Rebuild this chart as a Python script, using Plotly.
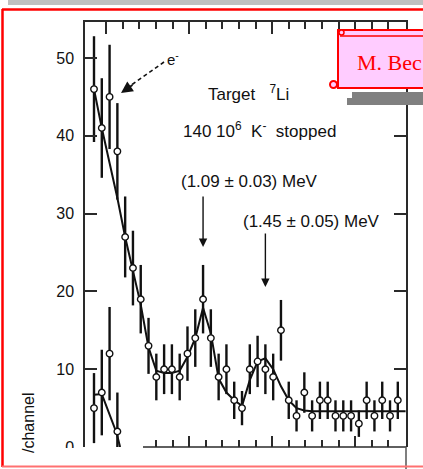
import plotly.graph_objects as go

# ---- spectrum data (counts per channel) ----
channels = list(range(40))
counts = [46, 41, 45, 38, 27, 23, 19, 13, 9, 10, 10, 9, 12, 14, 19, 14, 9, 10, 6, 5,
          10, 11, 10, 9, 15, 6, 4, 7, 4, 6, 6, 4, 4, 4, 3, 6, 4, 6, 4, 6]
count_errors = [6.8, 6.4, 6.7, 6.2, 5.2, 4.8, 4.4, 3.6, 3.0, 3.2, 3.2, 3.0, 3.5, 3.7, 4.4, 3.7, 3.0, 3.2, 2.4, 2.2,
                3.2, 3.3, 3.2, 3.0, 3.9, 2.4, 2.0, 2.6, 2.0, 2.4, 2.4, 2.0, 2.0, 2.0, 1.7, 2.4, 2.0, 2.4, 2.0, 2.4]

# fitted curve (background + two peaks)
fit_channels = list(range(41))
fit_counts = [46, 41, 36.5, 32, 27, 22.6, 18.3, 12.8, 9.8, 9.5, 9.5, 9.8, 11.6, 14, 17.9, 14.6, 8.8, 7, 6, 5.3,
              8.6, 11, 11.4, 10, 7.8, 6, 5, 4.7, 4.6, 4.6, 4.6, 4.6, 4.6, 4.6, 4.6, 4.6, 4.6, 4.6, 4.6, 4.6, 4.6]

# lower spectrum fragment
low_channels = [0, 1, 2, 3]
low_counts = [5, 7, 12, 2]
low_errors = [4.5, 5.5, 6.0, 5.0]
low_fit_channels = [0, 1, 2.9, 3.35]
low_fit_counts = [6.7, 6.8, 1.8, 0]

# peak annotations
peak_channels = [14, 22]
peak_labels = ["(1.09 ± 0.03) MeV", "(1.45 ± 0.05) MeV"]

y_ticks = [0, 10, 20, 30, 40, 50]

# ---- page geometry helpers ----
W, H = 423, 469
L, R, T, B = 85, 406, 22, 447          # plot frame in page pixels
CH0, CHW = 94.0, 7.79                  # pixel of channel 0, pixels per channel
YPX = 7.78                             # pixels per count


def px(x):
    return (x - L) / (R - L)


def py(y):
    return (B - y) / (B - T)


x_range = [(L - CH0) / CHW, (R - CH0) / CHW]
y_range = [0, (B - T) / YPX]

# energy-scale tick marks (every 2.131 channels, longer every 5th)
tick0, tick_step = (106.2 - CH0) / CHW, 16.6 / CHW
all_ticks = [tick0 + k * tick_step for k in range(19)]
major_ticks = [all_ticks[k] for k in (0, 5, 10, 15)]
minor_ticks = [t for i, t in enumerate(all_ticks) if i % 5 != 0]
bottom_major = [t for t in major_ticks if CH0 + t * CHW > 150]
bottom_minor = [t for t in minor_ticks if CH0 + t * CHW > 150]

INK = "#111111"
AX = "#2a2a2a"
FONT = "Liberation Sans"

fig = go.Figure()

fig.add_trace(go.Scatter(x=fit_channels, y=fit_counts, mode="lines",
                         line=dict(color=INK, width=2), showlegend=False, hoverinfo="skip"))
fig.add_trace(go.Scatter(x=low_fit_channels, y=low_fit_counts, mode="lines",
                         line=dict(color=INK, width=2), showlegend=False, hoverinfo="skip"))

marker = dict(symbol="circle", size=6.5, color="white", line=dict(color=INK, width=1.4))
fig.add_trace(go.Scatter(x=channels, y=counts, mode="markers", marker=marker,
                         error_y=dict(type="data", array=count_errors, color=INK, thickness=2.4, width=0),
                         showlegend=False))
fig.add_trace(go.Scatter(x=low_channels, y=low_counts, mode="markers", marker=marker,
                         error_y=dict(type="data", array=low_errors, color=INK, thickness=2.4, width=0),
                         showlegend=False))
# carrier for the top axis
fig.add_trace(go.Scatter(x=[None], y=[None], xaxis="x2", showlegend=False, hoverinfo="skip"))

fig.update_layout(
    width=W, height=H,
    margin=dict(l=L, r=W - R, t=T, b=H - B, pad=0),
    paper_bgcolor="white", plot_bgcolor="white",
    font=dict(family=FONT, color=INK),
    xaxis=dict(range=x_range, showgrid=False, zeroline=False, showline=False,
               showticklabels=False, ticks="inside", tickvals=bottom_major, ticklen=11,
               tickwidth=1.5, tickcolor=AX,
               minor=dict(tickvals=bottom_minor, ticks="inside", ticklen=7, tickwidth=1.5, tickcolor=AX)),
    xaxis2=dict(range=x_range, overlaying="x", side="top", showgrid=False, zeroline=False,
                showline=True, linecolor=AX, linewidth=1.5, showticklabels=False,
                ticks="inside", tickvals=major_ticks, ticklen=12, tickwidth=1.5, tickcolor=AX,
                minor=dict(tickvals=minor_ticks, ticks="inside", ticklen=7, tickwidth=1.5, tickcolor=AX)),
    yaxis=dict(range=y_range, showgrid=False, zeroline=False, showline=True, linecolor=AX,
               linewidth=1.5, mirror="ticks", ticks="inside", ticklen=12, tickwidth=1.5, tickcolor=AX,
               tickvals=y_ticks, ticktext=[str(v) for v in y_ticks],
               tickfont=dict(family=FONT, size=16, color=INK), ticklabelstandoff=6),
)

shapes = []
# bottom axis line (starts right of the lower fragment)
shapes.append(dict(type="line", xref="paper", yref="paper", x0=px(143), x1=px(R), y0=0, y1=0,
                   line=dict(color=AX, width=1.5)))
# right frame line running to the page bottom
shapes.append(dict(type="line", xref="paper", yref="paper", x0=1, x1=1, y0=py(B), y1=py(H),
                   line=dict(color="#555555", width=1.5)))
# mask below the zero label
shapes.append(dict(type="rect", xref="paper", yref="paper", x0=px(45), x1=px(82), y0=py(448), y1=py(462),
                   fillcolor="white", line=dict(width=0), layer="above"))
# grey strip across the page top
shapes.append(dict(type="rect", xref="paper", yref="paper", x0=px(8), x1=px(W + 5), y0=py(0), y1=py(5),
                   fillcolor="#c0c0c0", line=dict(width=0)))
# red page border
shapes.append(dict(type="line", xref="paper", yref="paper", x0=px(2), x1=px(W + 5), y0=py(9.5), y1=py(9.5),
                   line=dict(color="#ff0000", width=2.5)))
shapes.append(dict(type="line", xref="paper", yref="paper", x0=px(2.5), x1=px(2.5), y0=py(9), y1=py(467),
                   line=dict(color="#ff0000", width=2.5)))
shapes.append(dict(type="line", xref="paper", yref="paper", x0=px(2), x1=px(W + 5), y0=py(466.5), y1=py(466.5),
                   line=dict(color="#ff7070", width=2)))
# e- dashed pointer
shapes.append(dict(type="line", xref="paper", yref="paper", x0=px(164), y0=py(62), x1=px(130), y1=py(86),
                   line=dict(color=INK, width=1.6, dash="4px,3px")))
# name tag: shadow, scroll box, curls
shapes.append(dict(type="rect", xref="paper", yref="paper", x0=px(352), x1=px(W + 5), y0=py(92), y1=py(105),
                   fillcolor="#808080", line=dict(width=0), layer="above"))
shapes.append(dict(type="rect", xref="paper", yref="paper", x0=px(347), x1=px(353), y0=py(98), y1=py(105),
                   fillcolor="#808080", line=dict(width=0), layer="above"))
shapes.append(dict(type="rect", xref="paper", yref="paper", x0=px(338), x1=px(W + 8), y0=py(30), y1=py(88),
                   fillcolor="#ffccff", line=dict(color="#ff0000", width=2), layer="above"))
shapes.append(dict(type="line", xref="paper", yref="paper", x0=px(340), x1=px(W + 8), y0=py(36), y1=py(36),
                   line=dict(color="#ff0000", width=1.5), layer="above"))
shapes.append(dict(type="circle", xref="paper", yref="paper", x0=px(339), x1=px(344), y0=py(30), y1=py(35),
                   fillcolor="#ffccff", line=dict(color="#ff0000", width=1.5), layer="above"))
shapes.append(dict(type="circle", xref="paper", yref="paper", x0=px(330), x1=px(337), y0=py(81), y1=py(88),
                   fillcolor="#ffccff", line=dict(color="#ff0000", width=2), layer="above"))
fig.update_layout(shapes=shapes)


def note(text, x, y, size=17, anchor="left", **kw):
    fig.add_annotation(text=text, xref="paper", yref="paper", x=px(x), y=py(y), xanchor=anchor,
                       yanchor="middle", showarrow=False, font=dict(family=FONT, size=size, color=INK), **kw)


note("Target   <sup>7</sup>Li", 206, 93)
note("140 10<sup>6</sup>  K<sup>-</sup>  stopped", 181, 130)
note(peak_labels[0], 179, 181)
note(peak_labels[1], 241, 221)
note("e<sup>-</sup>", 165, 59, size=15)
note("/channel", 28, 423, size=16, anchor="center", textangle=-90)

# arrowhead of the e- pointer
fig.add_annotation(text="", xref="paper", yref="paper", x=px(121), y=py(93), ax=13, ay=-9,
                   showarrow=True, arrowhead=2, arrowsize=1.3, arrowwidth=1.8, arrowcolor=INK)

# peak arrows
for ch, tail, tip in zip(peak_channels, [195, 232], [247, 287]):
    fig.add_annotation(text="", x=ch, y=(B - tip) / YPX, xref="x", yref="y", ax=0, ay=-(tip - tail),
                       showarrow=True, arrowhead=2, arrowsize=1.2, arrowwidth=1.4, arrowcolor=INK)

# name tag text
fig.add_annotation(text="M. Bec", xref="paper", yref="paper", x=px(355), y=py(62), xanchor="left",
                   yanchor="middle", showarrow=False,
                   font=dict(family="Liberation Serif", size=22, color="#ff0000"))

fig.write_html("out.html")
